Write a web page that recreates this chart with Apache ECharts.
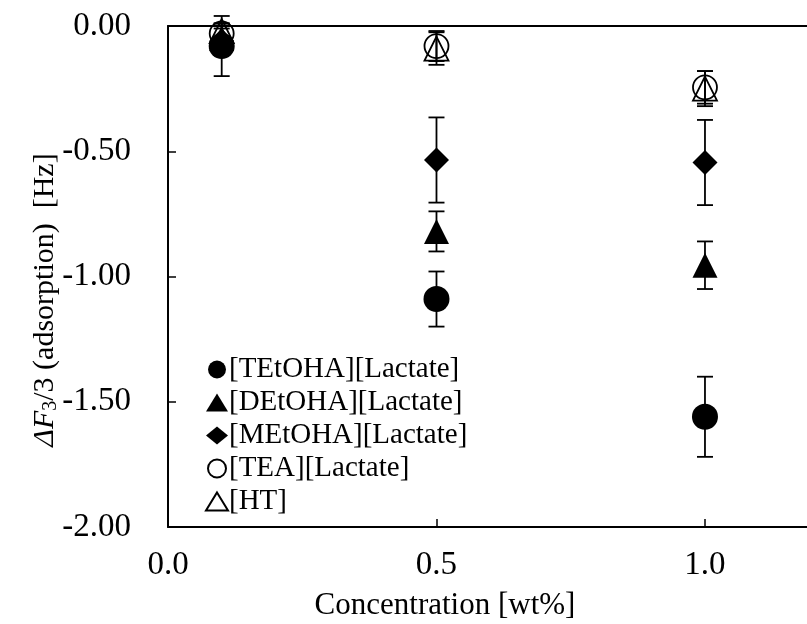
<!DOCTYPE html>
<html>
<head>
<meta charset="utf-8">
<script src="https://cdn.jsdelivr.net/npm/echarts@6/dist/echarts.min.js"></script>
<style>
html,body{margin:0;padding:0;background:#fff;}
#chart{width:807px;height:624px;}
</style>
</head>
<body>
<div id="chart"></div>
<script>
// concentrations [wt%]
var concentrations = [0.1, 0.5, 1.0];
// series names
var seriesNames = ['[TEtOHA][Lactate]', '[DEtOHA][Lactate]', '[MEtOHA][Lactate]', '[TEA][Lactate]', '[HT]'];
// mean values [Hz]
var valTEtOHA = [-0.08, -1.09, -1.56];
var valDEtOHA = [-0.05, -0.82, -0.955];
var valMEtOHA = [-0.06, -0.535, -0.545];
var valTEA    = [-0.03, -0.08, -0.245];
var valHT     = [-0.02, -0.09, -0.25];
// error (± std) [Hz]
var errTEtOHA = [0.12, 0.11, 0.16];
var errDEtOHA = [0.05, 0.08, 0.095];
var errMEtOHA = [0.05, 0.17, 0.17];
var errTEA    = [0.04, 0.06, 0.065];
var errHT     = [0.03, 0.065, 0.07];
// tick labels
var yTicks = ['0.00', '-0.50', '-1.00', '-1.50', '-2.00'];
var xTicks = ['0.0', '0.5', '1.0'];

var allVals = [valTEtOHA, valDEtOHA, valMEtOHA, valTEA, valHT];
var allErrs = [errTEtOHA, errDEtOHA, errMEtOHA, errTEA, errHT];
var symbols = ['circle', 'triangle', 'diamond', 'circle', 'triangle'];
var filled = [true, true, true, false, false];
var sizes = [26, 25, 25, 24, 24];

var FONT = '"Liberation Serif", "Times New Roman", serif';

var series = [];
for (var s = 0; s < seriesNames.length; s++) {
  var ebData = concentrations.map(function (c, i) { return [c, allVals[s][i], allErrs[s][i]]; });
  series.push({
    type: 'custom',
    name: seriesNames[s] + ' err',
    z: 2 + s * 2,
    silent: true,
    data: ebData,
    encode: { x: 0, y: 1 },
    renderItem: function (params, api) {
      var x = api.value(0), y = api.value(1), e = api.value(2);
      var top = api.coord([x, y + e]);
      var bot = api.coord([x, y - e]);
      var hw = 8;
      var st = { stroke: '#000', lineWidth: 1.8 };
      return {
        type: 'group',
        children: [
          { type: 'line', shape: { x1: top[0], y1: top[1], x2: bot[0], y2: bot[1] }, style: st },
          { type: 'line', shape: { x1: top[0] - hw, y1: top[1], x2: top[0] + hw, y2: top[1] }, style: st },
          { type: 'line', shape: { x1: bot[0] - hw, y1: bot[1], x2: bot[0] + hw, y2: bot[1] }, style: st }
        ]
      };
    }
  });
  series.push({
    type: 'scatter',
    name: seriesNames[s],
    z: 3 + s * 2,
    symbol: symbols[s],
    symbolSize: sizes[s],
    data: concentrations.map(function (c, i) { return [c, allVals[s][i]]; }),
    itemStyle: filled[s]
      ? { color: '#000', borderColor: '#000', borderWidth: 0, opacity: 1 }
      : { color: 'rgba(0,0,0,0)', borderColor: '#000', borderWidth: 1.8, opacity: 1 },
    emphasis: { disabled: true }
  });
}

var chart = echarts.init(document.getElementById('chart'), null, { renderer: 'canvas' });
chart.setOption({
  backgroundColor: '#fff',
  animation: false,
  textStyle: { fontFamily: FONT },
  grid: { left: 168, top: 26, right: 0, height: 501, show: false },
  legend: {
    data: seriesNames,
    orient: 'vertical',
    left: 200,
    top: 350,
    itemWidth: 22,
    itemHeight: 18,
    itemGap: 4,
    itemStyle: { opacity: 1 },
    textStyle: { fontFamily: FONT, fontSize: 29, color: '#000', padding: [0, 0, 0, -4], lineHeight: 29 },
    inactiveColor: '#000'
  },
  xAxis: [{
    type: 'value',
    min: 0, max: 1.19, interval: 0.5,
    axisLine: { show: true, onZero: false, lineStyle: { color: '#000', width: 2 } },
    axisTick: { show: true, inside: true, length: 8, lineStyle: { color: '#000', width: 1.5 } },
    splitLine: { show: false },
    axisLabel: {
      fontFamily: FONT, fontSize: 33, color: '#000', margin: 22, showMaxLabel: false,
      formatter: function (v) { var i = Math.round(v / 0.5); return xTicks[i] !== undefined ? xTicks[i] : ''; }
    }
  }, {
    type: 'value',
    position: 'top',
    min: 0, max: 1.19,
    axisLine: { show: true, onZero: false, lineStyle: { color: '#000', width: 2 } },
    axisTick: { show: false },
    axisLabel: { show: false },
    splitLine: { show: false }
  }],
  yAxis: {
    type: 'value',
    min: -2, max: 0, interval: 0.5,
    axisLine: { show: true, onZero: false, lineStyle: { color: '#000', width: 2 } },
    axisTick: { show: true, inside: true, length: 8, lineStyle: { color: '#000', width: 1.5 } },
    splitLine: { show: false },
    axisLabel: {
      fontFamily: FONT, fontSize: 33, color: '#000', margin: 37,
      formatter: function (v) { var i = Math.round(-v / 0.5); return yTicks[i] !== undefined ? yTicks[i] : ''; }
    }
  },
  graphic: [
    {
      type: 'text',
      id: 'xtitle',
      x: 445, y: 606,
      style: {
        text: 'Concentration [wt%]',
        fontFamily: FONT, fontSize: 31, fill: '#000',
        align: 'center', verticalAlign: 'middle'
      }
    },
    {
      type: 'text',
      id: 'ytitle',
      x: 45, y: 300,
      rotation: Math.PI / 2,
      style: {
        text: '{i|ΔF}{s|3}{n|/3 (adsorption)  [Hz]}',
        align: 'center', verticalAlign: 'middle',
        rich: {
          i: { fontFamily: FONT, fontSize: 30, fontStyle: 'italic', fill: '#000', verticalAlign: 'middle' },
          s: { fontFamily: FONT, fontSize: 20, fill: '#000', padding: [12, 0, 0, 0], verticalAlign: 'middle' },
          n: { fontFamily: FONT, fontSize: 30, fill: '#000', verticalAlign: 'middle' }
        }
      }
    }
  ],
  series: series
});
</script>
</body>
</html>
